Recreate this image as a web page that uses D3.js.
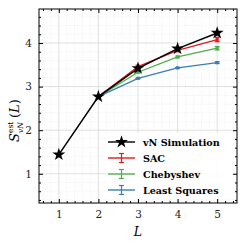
<!DOCTYPE html>
<html>
<head>
<meta charset="utf-8">
<script src="https://cdn.jsdelivr.net/npm/d3@7"></script>
<style>
  body { margin: 0; background: #fff; }
  svg { display: block; }
  text { font-family: "DejaVu Serif", "Liberation Serif", serif; }
</style>
</head>
<body>
<div class="chart-container"></div>
<script>
// values
var sizes = [1, 2, 3, 4, 5]
var vnSim = [1.44, 2.77, 3.42, 3.87, 4.23]

var seriesNames = ["SAC", "Chebyshev", "Least Squares"]
var seriesColors = ["#e41a1c", "#4daf4a", "#377eb8"]
var sacVals = [null, 2.77, 3.46, 3.83, 4.08]
var sacErr = [null, 0.01, 0.03, 0.03, 0.05]
var chebVals = [null, 2.77, 3.33, 3.68, 3.88]
var chebErr = [null, 0.01, 0.02, 0.02, 0.04]
var lsqVals = [null, 2.77, 3.19, 3.43, 3.55]
var lsqErr = [null, 0.01, 0.01, 0.01, 0.02]

var xTicks = [1, 2, 3, 4, 5]
var yTicks = [1, 2, 3, 4]

function createChart(){

    var width = 246, height = 246
    var margin = {top: 9, right: 9, bottom: 43, left: 39}

    //scales
    var x = d3.scaleLinear()
        .domain([0.5, 5.5])
        .range([margin.left, width - margin.right])

    var y = d3.scaleLinear()
        .domain([0.33, 4.78])
        .range([height - margin.bottom, margin.top])

    var svg = d3.select(".chart-container").append("svg")
        .attr("width", width)
        .attr("height", height)

    var x0 = margin.left, x1 = width - margin.right
    var y0 = height - margin.bottom, y1 = margin.top

    var xMinor = d3.range(0.6, 5.45, 0.2).filter(v => Math.abs(v - Math.round(v)) > 0.01)
    var yMinor = d3.range(0.4, 4.75, 0.2).filter(v => Math.abs(v - Math.round(v)) > 0.01)

    //minor grid (dotted)
    var grid = svg.append("g")
    grid.selectAll(".gxm").data(xMinor).join("line")
        .attr("x1", d => x(d)).attr("x2", d => x(d))
        .attr("y1", y0).attr("y2", y1)
        .attr("stroke", "#e4e4e4").attr("stroke-width", 0.6).attr("stroke-dasharray", "1,1.5")
    grid.selectAll(".gym").data(yMinor).join("line")
        .attr("y1", d => y(d)).attr("y2", d => y(d))
        .attr("x1", x0).attr("x2", x1)
        .attr("stroke", "#e4e4e4").attr("stroke-width", 0.6).attr("stroke-dasharray", "1,1.5")

    //major grid
    svg.append("g").selectAll("line").data(xTicks).join("line")
        .attr("x1", d => x(d)).attr("x2", d => x(d))
        .attr("y1", y0).attr("y2", y1)
        .attr("stroke", "#dcdcdc").attr("stroke-width", 0.9)
    svg.append("g").selectAll("line").data(yTicks).join("line")
        .attr("y1", d => y(d)).attr("y2", d => y(d))
        .attr("x1", x0).attr("x2", x1)
        .attr("stroke", "#dcdcdc").attr("stroke-width", 0.9)

    //the three estimator series, each with error bars
    var seriesVals = [sacVals, chebVals, lsqVals]
    var seriesErr = [sacErr, chebErr, lsqErr]

    var line = d3.line()
        .defined(d => d.v != null)
        .x(d => x(d.x))
        .y(d => y(d.v))

    seriesVals.forEach(function(vals, i){
        var pts = sizes.map((s, j) => ({x: s, v: vals[j], e: seriesErr[i][j]}))
        var col = seriesColors[i]
        var g = svg.append("g")
        g.append("path")
            .datum(pts)
            .attr("fill", "none")
            .attr("stroke", col)
            .attr("stroke-width", 1.3)
            .attr("d", line)
        var good = pts.filter(d => d.v != null && d.x > 2)
        g.selectAll(".eb").data(good).join("line")
            .attr("x1", d => x(d.x)).attr("x2", d => x(d.x))
            .attr("y1", d => y(d.v - d.e)).attr("y2", d => y(d.v + d.e))
            .attr("stroke", col).attr("stroke-width", 1.2)
        g.selectAll(".capl").data(good).join("line")
            .attr("x1", d => x(d.x) - 2.5).attr("x2", d => x(d.x) + 2.5)
            .attr("y1", d => y(d.v - d.e)).attr("y2", d => y(d.v - d.e))
            .attr("stroke", col).attr("stroke-width", 1.2)
        g.selectAll(".caph").data(good).join("line")
            .attr("x1", d => x(d.x) - 2.5).attr("x2", d => x(d.x) + 2.5)
            .attr("y1", d => y(d.v + d.e)).attr("y2", d => y(d.v + d.e))
            .attr("stroke", col).attr("stroke-width", 1.2)
        g.selectAll(".mk").data(good).join("rect")
            .attr("x", d => x(d.x) - 1.6).attr("y", d => y(d.v) - 1.6)
            .attr("width", 3.2).attr("height", 3.2)
            .attr("fill", col)
    })

    //the simulation line with star markers
    var simPts = sizes.map((s, j) => ({x: s, v: vnSim[j]}))
    svg.append("path")
        .datum(simPts)
        .attr("fill", "none")
        .attr("stroke", "#000")
        .attr("stroke-width", 1.5)
        .attr("d", line)
    var star = d3.symbol().type(d3.symbolStar).size(52)
    svg.append("g").selectAll("path").data(simPts).join("path")
        .attr("transform", d => `translate(${x(d.x)},${y(d.v)})`)
        .attr("d", star)
        .attr("fill", "#000")

    //legend
    var leg = svg.append("g")
    leg.append("rect")
        .attr("x", 106).attr("y", 133)
        .attr("width", 128).attr("height", 66)
        .attr("fill", "#fff").attr("opacity", 0.9)
    var legItems = [{name: "vN Simulation", col: "#000", star: true}]
        .concat(seriesNames.map((n, i) => ({name: n, col: seriesColors[i], star: false})))
    legItems.forEach(function(d, i){
        var ly = 142 + i * 16
        leg.append("line")
            .attr("x1", 108).attr("x2", 135)
            .attr("y1", ly).attr("y2", ly)
            .attr("stroke", d.col).attr("stroke-width", 1.4)
        if(d.star){
            leg.append("path")
                .attr("transform", `translate(121.5,${ly})`)
                .attr("d", star).attr("fill", "#000")
        } else {
            leg.append("line")
                .attr("x1", 121.5).attr("x2", 121.5)
                .attr("y1", ly - 4.5).attr("y2", ly + 4.5)
                .attr("stroke", d.col).attr("stroke-width", 1.2)
            leg.append("line")
                .attr("x1", 119).attr("x2", 124)
                .attr("y1", ly - 4.5).attr("y2", ly - 4.5)
                .attr("stroke", d.col).attr("stroke-width", 1.2)
            leg.append("line")
                .attr("x1", 119).attr("x2", 124)
                .attr("y1", ly + 4.5).attr("y2", ly + 4.5)
                .attr("stroke", d.col).attr("stroke-width", 1.2)
        }
        leg.append("text")
            .attr("x", 143).attr("y", ly + 3.5)
            .attr("font-size", 9.6)
            .attr("font-weight", "bold")
            .text(d.name)
    })

    //axes, ticks pointing inward on all four sides
    var fmt = d3.format("d")
    svg.append("g")
        .attr("transform", `translate(0,${y0})`)
        .call(d3.axisBottom(x).tickValues(xTicks).tickSizeInner(-4).tickSizeOuter(0).tickPadding(8).tickFormat(fmt))
    svg.append("g")
        .attr("transform", `translate(0,${y0})`)
        .call(d3.axisBottom(x).tickValues(xMinor).tickSizeInner(-2).tickSizeOuter(0).tickFormat(""))
    svg.append("g")
        .attr("transform", `translate(0,${y1})`)
        .call(d3.axisTop(x).tickValues(xTicks).tickSizeInner(-4).tickSizeOuter(0).tickFormat(""))
    svg.append("g")
        .attr("transform", `translate(0,${y1})`)
        .call(d3.axisTop(x).tickValues(xMinor).tickSizeInner(-2).tickSizeOuter(0).tickFormat(""))
    svg.append("g")
        .attr("transform", `translate(${x0},0)`)
        .call(d3.axisLeft(y).tickValues(yTicks).tickSizeInner(-4).tickSizeOuter(0).tickPadding(7).tickFormat(fmt))
    svg.append("g")
        .attr("transform", `translate(${x0},0)`)
        .call(d3.axisLeft(y).tickValues(yMinor).tickSizeInner(-2).tickSizeOuter(0).tickFormat(""))
    svg.append("g")
        .attr("transform", `translate(${x1},0)`)
        .call(d3.axisRight(y).tickValues(yTicks).tickSizeInner(-4).tickSizeOuter(0).tickFormat(""))
    svg.append("g")
        .attr("transform", `translate(${x1},0)`)
        .call(d3.axisRight(y).tickValues(yMinor).tickSizeInner(-2).tickSizeOuter(0).tickFormat(""))

    svg.selectAll(".tick text")
        .attr("font-family", "DejaVu Serif, serif")
        .attr("font-size", 10.5)
        .attr("fill", "#222")
    svg.selectAll(".domain").remove()

    //frame
    svg.append("rect")
        .attr("x", x0).attr("y", y1)
        .attr("width", x1 - x0).attr("height", y0 - y1)
        .attr("fill", "none").attr("stroke", "#000").attr("stroke-width", 1)

    //axis titles
    svg.append("text")
        .attr("x", (x0 + x1) / 2).attr("y", 236)
        .attr("text-anchor", "middle")
        .attr("font-style", "italic")
        .attr("font-size", 12.5)
        .text("L")

    //y title: S with stacked superscript "est" and subscript "vN", then (L)
    var yt = svg.append("g")
        .attr("transform", `translate(19,142) rotate(-90)`)
    yt.append("text").attr("x", 0).attr("y", 0)
        .attr("font-style", "italic").attr("font-size", 13).text("S")
    yt.append("text").attr("x", 9).attr("y", -6)
        .attr("font-size", 7.5).text("est")
    yt.append("text").attr("x", 9).attr("y", 4)
        .attr("font-style", "italic").attr("font-size", 7.5).text("vN")
    yt.append("text").attr("x", 24).attr("y", 0)
        .attr("font-size", 13)
        .append("tspan").text("(")
        .append("tspan").attr("font-style", "italic").text("L")
    yt.select("text:last-child").append("tspan").text(")")
}

createChart()
</script>
</body>
</html>
